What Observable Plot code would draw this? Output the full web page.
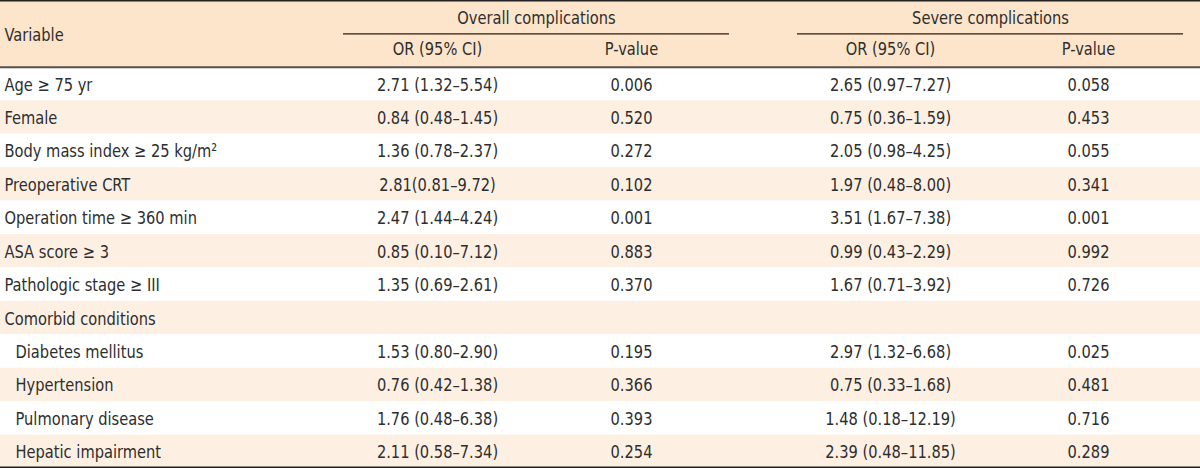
<!DOCTYPE html>
<html>
<head>
<meta charset="utf-8">
<script src="https://cdn.jsdelivr.net/npm/d3@7"></script>
<script src="https://cdn.jsdelivr.net/npm/@observablehq/plot@0.6"></script>
<style>
  html, body { margin: 0; padding: 0; background: #fff; }
  #chart svg { display: block; }
</style>
</head>
<body>
<div id="chart"></div>
<script>
// ---- data ----
const variables = [
  "Age ≥ 75 yr", "Female", "Body mass index ≥ 25 kg/m²", "Preoperative CRT",
  "Operation time ≥ 360 min", "ASA score ≥ 3", "Pathologic stage ≥ III",
  "Comorbid conditions", "Diabetes mellitus", "Hypertension",
  "Pulmonary disease", "Hepatic impairment"
];
const subItem = [false, false, false, false, false, false, false, false, true, true, true, true];
const overallOR = [
  "2.71 (1.32–5.54)", "0.84 (0.48–1.45)", "1.36 (0.78–2.37)", "2.81(0.81–9.72)",
  "2.47 (1.44–4.24)", "0.85 (0.10–7.12)", "1.35 (0.69–2.61)", "",
  "1.53 (0.80–2.90)", "0.76 (0.42–1.38)", "1.76 (0.48–6.38)", "2.11 (0.58–7.34)"
];
const overallP = ["0.006", "0.520", "0.272", "0.102", "0.001", "0.883", "0.370", "", "0.195", "0.366", "0.393", "0.254"];
const severeOR = [
  "2.65 (0.97–7.27)", "0.75 (0.36–1.59)", "2.05 (0.98–4.25)", "1.97 (0.48–8.00)",
  "3.51 (1.67–7.38)", "0.99 (0.43–2.29)", "1.67 (0.71–3.92)", "",
  "2.97 (1.32–6.68)", "0.75 (0.33–1.68)", "1.48 (0.18–12.19)", "2.39 (0.48–11.85)"
];
const severeP = ["0.058", "0.453", "0.055", "0.341", "0.001", "0.992", "0.726", "", "0.025", "0.481", "0.716", "0.289"];
const groupHeaders = ["Overall complications", "Severe complications"];
const subHeaders = ["OR (95% CI)", "P-value", "OR (95% CI)", "P-value"];
const firstHeader = "Variable";

// ---- layout ----
const W = 1200, H = 468;
const headerRows = 2;
const nRows = variables.length + headerRows;
const colX = [437, 631, 890, 1088];          // centres of the value columns
const groupSpan = [[343, 729], [797, 1183]]; // underline extents of group headers
const headerBg = "#fde5cb", altBg = "#fdf0e3", ink = "#2e2e2e";
const font = "'Liberation Sans Narrow', 'DejaVu Sans Condensed', 'DejaVu Sans', sans-serif";
const fs = 18;
const condense = 0.905; // narrow the glyphs horizontally (condensed face look)

const rows = variables.map((v, i) => ({
  v, sub: subItem[i], row: i + headerRows,
  oOR: overallOR[i], oP: overallP[i], sOR: severeOR[i], sP: severeP[i]
}));

const cells = [];
rows.forEach(r => {
  [r.oOR, r.oP, r.sOR, r.sP].forEach((t, j) => cells.push({x: colX[j], y: r.row + 0.5, t}));
});

const chart = Plot.plot({
  width: W, height: H,
  margin: 0,
  x: {domain: [0, W], range: [0, W], axis: null},
  y: {domain: [0, nRows], range: [0, H], axis: null},
  style: {fontFamily: font, background: "#fff"},
  marks: [
    Plot.rect([0], {x1: 0, x2: W, y1: 0, y2: headerRows, fill: headerBg}),
    Plot.rect(rows, {x1: 0, x2: W, y1: d => d.row, y2: d => d.row + 1,
      fill: d => (d.row - headerRows) % 2 ? altBg : "#ffffff"}),
    Plot.text([firstHeader], {x: () => 4, y: () => 1.04, text: d => d, textAnchor: "start", fontSize: fs, fill: ink}),
    Plot.text(groupHeaders, {x: (d, i) => (groupSpan[i][0] + groupSpan[i][1]) / 2, y: () => 0.53,
      text: d => d, fontSize: fs, fill: ink}),
    Plot.text(subHeaders, {x: (d, i) => colX[i], y: () => 1.47, text: d => d, fontSize: fs, fill: ink}),
    Plot.ruleY(groupSpan, {y: 1, x1: d => d[0], x2: d => d[1], stroke: "#2a1a12", strokeWidth: 1.2}),
    Plot.text(rows, {x: d => d.sub ? 15 : 4, y: d => d.row + 0.52, text: "v",
      textAnchor: "start", fontSize: fs, fill: ink}),
    Plot.text(cells, {x: "x", y: d => d.y + 0.02, text: "t", fontSize: fs, fill: ink}),
    Plot.ruleY([0], {stroke: "#222", strokeWidth: 2}),
    Plot.ruleY([headerRows], {stroke: "#5a4f48", strokeWidth: 2}),
    Plot.ruleY([nRows], {stroke: "#222", strokeWidth: 2, dy: -1})
  ]
});

// condense text horizontally around each label's anchor point
chart.querySelectorAll("text").forEach(t => {
  const tr = t.getAttribute("transform");
  if (tr) {
    t.setAttribute("transform", tr + ` scale(${condense},1)`);
  } else {
    const x = +t.getAttribute("x") || 0, y = +t.getAttribute("y") || 0;
    t.removeAttribute("x"); t.removeAttribute("y");
    t.setAttribute("transform", `translate(${x},${y}) scale(${condense},1)`);
  }
});
document.getElementById("chart").appendChild(chart);
</script>
</body>
</html>
